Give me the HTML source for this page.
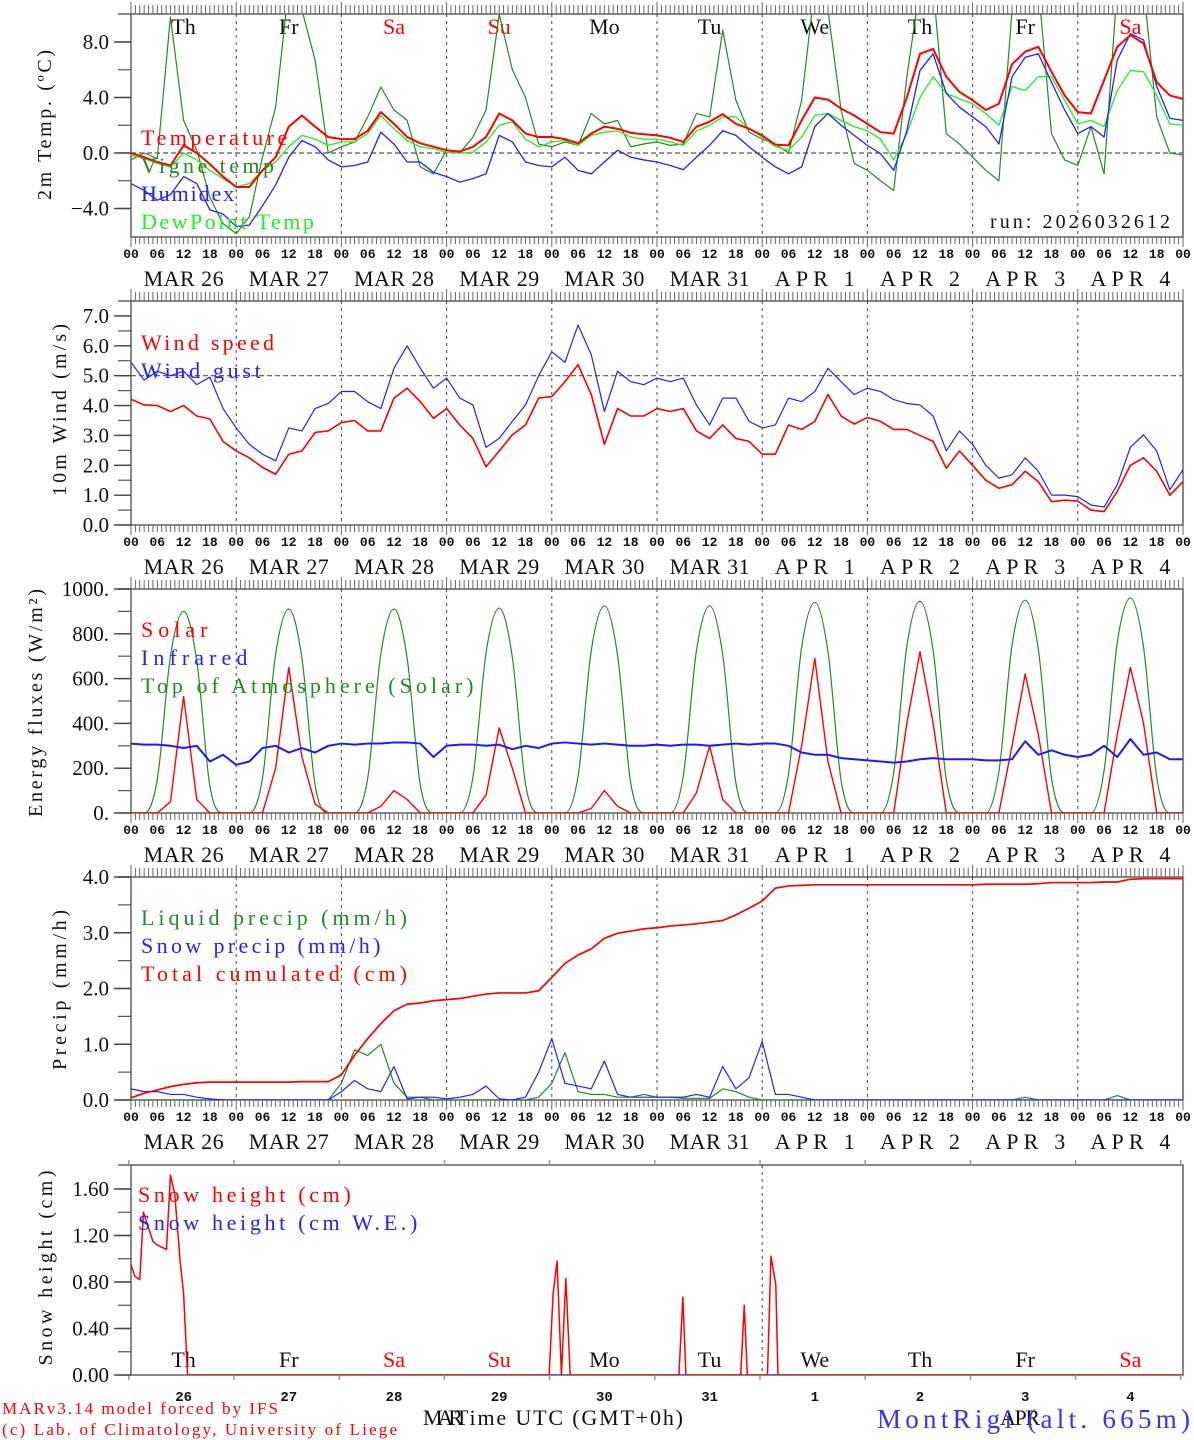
<!DOCTYPE html>
<html><head><meta charset="utf-8"><title>MAR meteogram MontRigi</title>
<style>
html,body{margin:0;padding:0;background:#fff;}
svg{display:block;}
text{font-family:"Liberation Mono",monospace;}
.serif{font-family:"Liberation Serif",serif;}
</style></head>
<body>
<svg id="chart" xmlns="http://www.w3.org/2000/svg" width="1194" height="1440" viewBox="0 0 1194 1440">
<rect x="0" y="0" width="1194" height="1440" fill="#fff"/>
<text class="serif" x="1170" y="228" text-anchor="end" font-size="20" fill="#111" textLength="180">run: 2026032612</text>
<text class="serif" x="2" y="1414" font-size="17" fill="#ff0000" textLength="276">MARv3.14 model forced by IFS</text>
<text class="serif" x="2" y="1435" font-size="17" fill="#ff0000" textLength="395">(c) Lab. of Climatology, University of Liege</text>
<text class="serif" x="423" y="1425" font-size="22" fill="#111" textLength="40">MAR</text>
<text class="serif" x="1000" y="1425" font-size="22" fill="#111" textLength="40">APR</text>
<text class="serif" x="455" y="1425" font-size="22" fill="#111" textLength="228">Time UTC (GMT+0h)</text>
<text class="serif" x="877" y="1428" font-size="27" fill="#3333ff" textLength="313">MontRigi (alt. 665m)</text>
</svg>
<script>
// ---------- data (3-hourly, t = 0..240 h from MAR 26 00 UTC) ----------
const temperature = [0.0,-0.3,-0.65,-0.9,0.55,0,-0.8,-1.7,-2.45,-2.45,-1.25,-0.3,1.9,2.7,1.9,1.15,1.0,1.0,1.6,2.95,2.1,1.15,0.7,0.45,0.2,0.1,0.45,1.15,2.85,2.35,1.4,1.15,1.15,1.0,0.7,1.4,1.9,1.75,1.45,1.35,1.27,1.1,0.8,1.9,2.25,2.8,2.1,1.75,1.27,0.6,0.55,2.35,4.0,3.85,3.2,2.7,2.1,1.5,1.4,4.0,7.15,7.5,5.5,4.4,3.8,3.1,3.55,6.4,7.3,7.65,5.85,4.15,2.95,2.85,5.25,7.65,8.5,7.9,5.1,4.15,3.9];
const vigneTemp = [-0.5,0,-0.4,9.8,2.35,0.2,-3.2,-5.1,-5.8,-4.6,-0.3,3.3,12,10.3,6.7,0,0.45,0.8,2.6,4.75,3.1,2.35,-1.0,-1.5,0.2,0,1.15,3.1,10,6.0,4.0,0.65,0.45,0.8,0.55,2.85,2.1,2.35,0.45,0.65,0.8,0.55,0.65,2.85,2.6,8.85,3.8,1.5,1.0,0.65,0,3.8,12,10.3,3.1,-0.75,-1.25,-2.0,-2.7,5.5,12,12,1.4,0.65,-0.3,-1.25,-2.0,10.3,12,12,1.4,-0.5,-0.9,1.9,-1.5,12,12,12,2.6,0,-0.15];
const humidex = [-2.2,-2.7,-3.4,-3.0,-1.7,-2.2,-4.1,-4.4,-5.3,-5.2,-3.8,-2.3,-0.3,0.9,0.45,-0.5,-1.0,-0.9,-0.65,1.5,0.65,-0.65,-0.65,-1.4,-1.7,-2.1,-1.85,-1.5,1.27,0.8,-0.65,-0.9,-1.0,-0.3,-1.25,-1.5,-0.65,0.2,-0.3,-0.5,-0.65,-0.9,-1.2,-0.3,0.55,1.6,1.27,0.45,-0.3,-1.0,-1.5,-1.0,1.9,2.85,2.0,1.27,0.55,-0.05,-1.25,1.6,5.95,7.15,4.3,3.3,2.6,1.9,0.65,5.5,6.9,7.15,5.1,3.1,1.4,1.9,1.15,6.7,8.6,8.15,4.8,2.5,2.35];
const dewPoint = [-0.15,-0.4,-0.75,-1.0,0,-0.5,-1.25,-1.85,-2.45,-2.2,-1.25,-0.65,0.45,1.27,1.0,0.55,0.8,0.8,1.4,2.7,1.75,0.9,0.45,0.3,0.05,0,0.05,0.8,2.0,2.25,1.0,0.45,0.8,0.9,0.55,1.27,1.5,1.6,1.15,1.0,1.0,0.8,0.55,1.6,2.0,2.6,2.6,1.75,1.15,0.45,0.2,1.15,2.7,2.85,2.35,1.9,1.6,1.0,-0.5,1.4,4.0,5.5,4.3,3.9,3.55,2.85,2.0,4.8,4.5,5.5,5.5,3.8,2.1,2.35,1.9,4.5,5.95,5.85,4.15,2.1,2.0];
const windSpeed = [4.21,4.02,4.0,3.8,4.0,3.65,3.55,2.8,2.48,2.25,1.93,1.7,2.37,2.48,3.1,3.15,3.43,3.5,3.15,3.15,4.25,4.58,4.13,3.57,3.9,3.35,2.9,1.95,2.48,3.02,3.35,4.25,4.3,4.8,5.37,4.37,2.7,3.9,3.65,3.65,3.9,3.8,3.9,3.15,2.9,3.35,2.9,2.8,2.37,2.37,3.35,3.2,3.47,4.37,3.65,3.38,3.6,3.47,3.2,3.2,3.0,2.8,1.9,2.48,2.0,1.5,1.23,1.35,1.8,1.45,0.78,0.83,0.8,0.5,0.45,1.12,2.0,2.25,1.8,1.0,1.45];
const windGust = [5.45,4.85,5.15,5.0,5.15,4.7,4.95,3.9,3.25,2.7,2.37,2.15,3.25,3.15,3.9,4.07,4.47,4.47,4.13,3.9,5.25,6.0,5.25,4.58,4.92,4.25,4.02,2.6,2.9,3.47,4.02,5.0,5.8,5.45,6.7,5.7,3.8,5.15,4.8,4.7,4.92,4.8,4.92,4.02,3.35,4.25,4.25,3.47,3.25,3.35,4.25,4.13,4.47,5.25,4.8,4.37,4.58,4.47,4.2,4.07,4.02,3.65,2.48,3.15,2.7,2.0,1.57,1.68,2.25,1.8,1.0,1.0,0.95,0.67,0.6,1.35,2.6,3.02,2.48,1.18,1.85];
const solar = [0,0,0,50,520,60,0,0, 0,0,0,200,650,250,40,0, 0,0,0,30,100,60,0,0, 0,0,0,80,380,200,0,0, 0,0,0,20,100,30,0,0, 0,0,0,90,300,60,0,0, 0,0,0,300,690,230,0,0, 0,0,0,400,720,400,0,0, 0,0,0,300,620,350,0,0, 0,0,0,350,650,400,0,0, 0];
const infrared = [310,305,305,300,290,300,230,260, 215,230,290,300,270,290,270,300, 310,305,310,310,315,315,310,250, 300,305,305,300,305,285,300,290, 310,315,310,305,310,305,300,300, 305,300,305,305,300,305,310,305, 310,310,300,270,260,260,245,240, 235,230,225,230,240,245,240,240, 240,235,235,240,320,260,280,260, 250,260,300,250,330,260,270,240, 240];
const toaSolar = [0,0,150,700,900,680,120,0, 0,0,155,710,910,690,125,0, 0,0,155,710,910,690,125,0, 0,0,160,715,915,695,130,0, 0,0,165,725,925,705,135,0, 0,0,165,725,925,705,135,0, 0,0,175,740,940,720,145,0, 0,0,180,745,945,725,150,0, 0,0,185,750,950,730,155,0, 0,0,190,760,960,740,160,0, 0];
const liquidPrecip = [0,0,0,0,0,0,0,0,0,0,0,0,0,0,0,0,0.3,0.9,0.8,1.0,0.3,0.05,0.05,0,0,0,0,0,0,0,0,0.05,0.3,0.85,0.15,0.1,0.1,0.05,0.05,0.1,0.05,0.05,0.03,0.03,0.03,0.2,0.15,0.05,0,0,0,0,0,0,0,0,0,0,0,0,0,0,0,0,0,0,0,0,0.05,0,0,0,0,0,0,0.08,0,0,0,0,0];
const snowPrecip = [0.2,0.15,0.15,0.1,0.1,0.05,0.02,0,0,0,0,0,0,0,0,0,0.15,0.35,0.2,0.15,0.6,0.02,0.05,0.05,0.02,0.05,0.1,0.25,0.02,0,0.05,0.5,1.1,0.3,0.25,0.2,0.7,0.1,0.05,0.05,0.05,0.05,0.05,0.1,0.05,0.6,0.2,0.4,1.05,0.1,0.1,0.05,0,0,0,0,0,0,0,0,0,0,0,0,0,0,0,0,0,0,0,0,0,0,0,0,0,0,0,0,0];
const totalCumulated = [0.04,0.12,0.18,0.24,0.28,0.31,0.32,0.32,0.32,0.32,0.32,0.32,0.32,0.33,0.33,0.33,0.45,0.8,1.1,1.37,1.6,1.72,1.74,1.78,1.8,1.82,1.86,1.9,1.92,1.92,1.92,1.96,2.2,2.45,2.6,2.71,2.9,2.99,3.03,3.07,3.09,3.12,3.14,3.16,3.19,3.22,3.32,3.44,3.57,3.8,3.84,3.85,3.86,3.86,3.86,3.86,3.86,3.86,3.86,3.86,3.86,3.86,3.86,3.86,3.86,3.87,3.87,3.87,3.87,3.88,3.9,3.9,3.9,3.9,3.91,3.91,3.96,3.97,3.97,3.97,3.97];
const snowHours = [0,0.85,2.0,2.85,5.0,5.9,8.1,9.0,10.0,11.2,12.0,12.9,95.4,96.3,97.2,98.2,99.2,100.2,125.0,125.9,126.6,139.1,139.9,140.6,145.2,146.0,147.1,147.6,240];
const snowHeight = [0.95,0.85,0.82,1.4,1.15,1.12,1.08,1.72,1.55,0.98,0.7,0,0,0.7,0.98,0,0.83,0,0,0.67,0,0,0.6,0,0,1.02,0.78,0,0];
const snowHeightWE = [0,0];
const snowHoursWE = [13,240];
const weekdays = ["Th","Fr","Sa","Su","Mo","Tu","We","Th","Fr","Sa"];
const dateLabels = ["MAR 26","MAR 27","MAR 28","MAR 29","MAR 30","MAR 31","APR  1","APR  2","APR  3","APR  4"];
const dayNumbers = ["26","27","28","29","30","31","1","2","3","4"];
const hourLabels = ["00","06","12","18"];
const tempTicks = [-4,0,4,8];
const windTicks = [0,1,2,3,4,5,6,7];
const energyTicks = [0,200,400,600,800,1000];
const precipTicks = [0,1,2,3,4];
const snowTicks = [0,0.4,0.8,1.2,1.6];

// ---------- layout ----------
const svg = document.getElementById('chart');
const NS = 'http://www.w3.org/2000/svg';
const X0 = 131, X1 = 1183, HSPAN = 240;
function xs(h){ return X0 + h/HSPAN*(X1-X0); }
function mk(tag, attrs, parent){
  const e = document.createElementNS(NS, tag);
  for (const k in attrs) e.setAttribute(k, attrs[k]);
  (parent||svg).appendChild(e);
  return e;
}
const panels = [
  {id:'temp', top:14, bottom:237, zeroY:153, k:13.875},
  {id:'wind', top:301, bottom:525, zeroY:525, k:29.86},
  {id:'energy', top:589, bottom:813, zeroY:813, k:0.224},
  {id:'precip', top:877, bottom:1100, zeroY:1100, k:55.75},
  {id:'snow', top:1165, bottom:1375, zeroY:1375, k:116.25}
];
function ys(p, v){ return p.zeroY - v*p.k; }
const threeHourly = [];
for (let i=0;i<temperature.length;i++) threeHourly.push(i*3);

const defs = mk('defs', {});


panels.forEach(p=>{
  const cp = mk('clipPath', {id:'clip-'+p.id}, defs);
  
  
  const r = mk('rect', {x:X0, y:p.top, width:X1-X0, height:p.bottom-p.top}, cp);
  
  
});

function polyPath(p, hours, vals){
  let d='';
  for (let i=0;i<vals.length;i++){
    d += (i?'L':'M') + xs(hours[i]).toFixed(2) + ',' + ys(p, vals[i]).toFixed(2);
  }
  return d;
}
function monoPath(p, hours, vals){
  const n = vals.length, xsA=[], ysA=[];
  for (let i=0;i<n;i++){ xsA.push(xs(hours[i])); ysA.push(ys(p, vals[i])); }
  const dx=[], sl=[], m=[];
  for (let i=0;i<n-1;i++){ dx.push(xsA[i+1]-xsA[i]); sl.push((ysA[i+1]-ysA[i])/dx[i]); }
  m.push(sl[0]);
  for (let i=1;i<n-1;i++){ m.push(sl[i-1]*sl[i]<=0 ? 0 : (sl[i-1]+sl[i])/2); }
  m.push(sl[n-2]);
  for (let i=0;i<n-1;i++){
    if (sl[i]===0){ m[i]=0; m[i+1]=0; continue; }
    const a=m[i]/sl[i], b=m[i+1]/sl[i], s=a*a+b*b;
    if (s>9){ const t=3/Math.sqrt(s); m[i]=t*a*sl[i]; m[i+1]=t*b*sl[i]; }
  }
  let d='M'+xsA[0].toFixed(2)+','+ysA[0].toFixed(2);
  for (let i=0;i<n-1;i++){
    const h=dx[i]/3;
    d += 'C'+(xsA[i]+h).toFixed(2)+','+(ysA[i]+m[i]*h).toFixed(2)+' '+(xsA[i+1]-h).toFixed(2)+','+(ysA[i+1]-m[i+1]*h).toFixed(2)+' '+xsA[i+1].toFixed(2)+','+ysA[i+1].toFixed(2);
  }
  return d;
}

panels.forEach((p, pi)=>{
  const g = mk('g', {});
  
  
  const fr = mk('rect', {x:X0, y:p.top, width:X1-X0, height:p.bottom-p.top, fill:'none', stroke:'#555', 'stroke-width':1.4}, g);
  
  
  const ext = mk('line', {x1:118, x2:X0, y1:p.top, y2:p.top, stroke:'#555', 'stroke-width':1.4}, g);
  
  
  if (pi<4){
    for (let d=1; d<10; d++){
      const vl = mk('line', {x1:xs(d*24), x2:xs(d*24), y1:p.top, y2:p.bottom, stroke:'#444', 'stroke-width':1, 'stroke-dasharray':'3,4'}, g);
      
      
    }
    for (let h=0; h<=240; h++){
      const big = h%24===0;
      const tt = mk('line', {x1:xs(h), x2:xs(h), y1:p.top-(big?12:9), y2:p.top, stroke:'#666', 'stroke-width':1}, g);
      
      
      const bt = mk('line', {x1:xs(h), x2:xs(h), y1:p.bottom, y2:p.bottom+(big?10:7), stroke:'#666', 'stroke-width':1}, g);
      
      
    }
    for (let d=0; d<=10; d++){
      for (let j=0;j<4;j++){
        if (d===10 && j>0) break;
        const hl = mk('text', {x:xs(d*24+j*6), y:p.bottom+21, 'font-size':13, 'font-weight':'bold', 'text-anchor':'middle', fill:'#111'}, g);
        hl.textContent = hourLabels[j];
        
        
      }
    }
    for (let d=0; d<10; d++){
      const dl = mk('text', {x:xs(d*24+12)-40, y:p.bottom+49, 'font-size':22, fill:'#111', 'xml:space':'preserve', 'class':'serif', textLength:80}, g);
      dl.textContent = dateLabels[d];
      
      
    }
  } else {
    const vl = mk('line', {x1:xs(144), x2:xs(144), y1:p.top, y2:p.bottom, stroke:'#444', 'stroke-width':1, 'stroke-dasharray':'3,4'}, g);
    
    
    for (let d=0; d<=10; d++){
      const tt = mk('line', {x1:xs(d*24-0.5), x2:xs(d*24-0.5), y1:p.top-5, y2:p.top, stroke:'#999', 'stroke-width':1.5}, g);
      
      
      const bt = mk('line', {x1:xs(d*24-0.5), x2:xs(d*24-0.5), y1:p.bottom, y2:p.bottom+5, stroke:'#999', 'stroke-width':1.5}, g);
      
      
    }
    for (let d=0; d<10; d++){
      const wl = mk('text', {x:xs(d*24+12), y:1367, 'font-size':22, 'text-anchor':'middle', 'class':'serif', fill:(weekdays[d]==='Sa'||weekdays[d]==='Su')?'#ff0000':'#111'}, g);
      wl.textContent = weekdays[d];
      
      
      const nl = mk('text', {x:xs(d*24+12), y:1401, 'font-size':14, 'font-weight':'bold', 'text-anchor':'middle', fill:'#111'}, g);
      nl.textContent = dayNumbers[d];
      
      
    }
  }
});

function yAxis(p, ticks, fmt, minorStep, name){
  const g = mk('g', {});
  
  
  const lo = ticks[0], hi = ticks[ticks.length-1];
  for (let v=lo; v<=hi+1e-9; v+=minorStep){
    const y = ys(p, v);
    if (y < p.top-1 || y > p.bottom+1) continue;
    const mt = mk('line', {x1:118, x2:X0, y1:y, y2:y, stroke:'#555', 'stroke-width':1.2}, g);
    
    
  }
  ticks.forEach(v=>{
    const y = ys(p, v);
    const t = mk('line', {x1:114, x2:X0, y1:y, y2:y, stroke:'#444', 'stroke-width':1.4}, g);
    
    
    const l = mk('text', {x:109, y:y+7, 'font-size':21, 'text-anchor':'end', 'class':'serif', fill:'#111'}, g);
    l.textContent = fmt(v);
    
    
  });
}
yAxis(panels[0], tempTicks, v=>(v<0?'\u2212':'')+Math.abs(v).toFixed(1), 2, 'temp');
yAxis(panels[1], windTicks, v=>v.toFixed(1), 0.5, 'wind');
yAxis(panels[2], energyTicks, v=>v+'.', 100, 'energy');
yAxis(panels[3], precipTicks, v=>v.toFixed(1), 0.5, 'precip');
yAxis(panels[4], snowTicks, v=>v.toFixed(2), 0.2, 'snow');

const yTitles = [
  ['2m Temp. (\u00baC)', 45, 125, 'temp-y-axis-title', 150],
  ['10m Wind (m/s)', 60, 410, 'wind-y-axis-title', 172],
  ['Energy fluxes (W/m\u00b2)', 36, 703, 'energy-y-axis-title', 228],
  ['Precip (mm/h)', 60, 990, 'precip-y-axis-title', 160],
  ['Snow height (cm)', 46, 1268, 'snow-y-axis-title', 195]
];
yTitles.forEach(t=>{
  const e = mk('text', {x:t[1], y:t[2], 'font-size':20, 'text-anchor':'middle', 'dominant-baseline':'central', 'class':'serif', textLength:t[4], fill:'#111', transform:'rotate(-90 '+t[1]+' '+t[2]+')'});
  e.textContent = t[0];
  
  
});

weekdays.forEach((w,d)=>{
  const e = mk('text', {x:xs(d*24+12), y:34, 'font-size':22, 'text-anchor':'middle', 'class':'serif', fill:(w==='Sa'||w==='Su')?'#ff0000':'#111'});
  e.textContent = w;
  
  
});

const zl = mk('line', {x1:X0, x2:X1, y1:ys(panels[0],0), y2:ys(panels[0],0), stroke:'#555', 'stroke-width':1.2, 'stroke-dasharray':'5,3'});


const fl = mk('line', {x1:X0, x2:X1, y1:ys(panels[1],5), y2:ys(panels[1],5), stroke:'#555', 'stroke-width':1.2, 'stroke-dasharray':'5,3'});



function series(p, hours, vals, color, w, name, smooth){
  const e = mk('path', {d: smooth ? monoPath(p, hours, vals) : polyPath(p, hours, vals), fill:'none', stroke:color, 'stroke-width':w, 'stroke-linejoin':'round', 'clip-path':'url(#clip-'+p.id+')'});
  
  
  return e;
}
series(panels[0], threeHourly, vigneTemp, '#228b22', 1.2, 'vigne-temp-line');
series(panels[0], threeHourly, dewPoint, '#22ee22', 1.3, 'dewpoint-line');
series(panels[0], threeHourly, humidex, '#2222ff', 1.3, 'humidex-line');
series(panels[0], threeHourly, temperature, '#ff0000', 2, 'temperature-line');
series(panels[1], threeHourly, windGust, '#2222ff', 1.2, 'wind-gust-line');
series(panels[1], threeHourly, windSpeed, '#ff0000', 1.6, 'wind-speed-line');
series(panels[2], threeHourly, toaSolar, '#228b22', 1.2, 'toa-solar-line', true);
series(panels[2], threeHourly, solar, '#ff0000', 1.4, 'solar-line');
series(panels[2], threeHourly, infrared, '#1a1aff', 2, 'infrared-line');
series(panels[3], threeHourly, liquidPrecip, '#228b22', 1.2, 'liquid-precip-line');
series(panels[3], threeHourly, snowPrecip, '#2222ff', 1.2, 'snow-precip-line');
series(panels[3], threeHourly, totalCumulated, '#ff0000', 1.7, 'total-cumulated-line');
series(panels[4], snowHoursWE, snowHeightWE, '#2222ff', 1.2, 'snow-height-we-line');
series(panels[4], snowHours, snowHeight, '#ff0000', 1.5, 'snow-height-line');

const legends = [
  ['Temperature', 141, 145, '#ff0000', 'legend-temperature'],
  ['Vigne temp', 141, 173, '#228b22', 'legend-vigne-temp'],
  ['Humidex', 141, 201, '#2222ff', 'legend-humidex'],
  ['DewPoint Temp', 141, 229, '#22ee22', 'legend-dewpoint'],
  ['Wind speed', 141, 350, '#ff0000', 'legend-wind-speed'],
  ['Wind gust', 141, 378, '#2222ff', 'legend-wind-gust'],
  ['Solar', 141, 637, '#ff0000', 'legend-solar'],
  ['Infrared', 141, 665, '#2222ff', 'legend-infrared'],
  ['Top of Atmosphere (Solar)', 141, 693, '#228b22', 'legend-toa'],
  ['Liquid precip (mm/h)', 141, 925, '#228b22', 'legend-liquid-precip'],
  ['Snow precip (mm/h)', 141, 953, '#2222ff', 'legend-snow-precip'],
  ['Total cumulated (cm)', 141, 981, '#ff0000', 'legend-total-cumulated'],
  ['Snow height (cm)', 138, 1202, '#ff0000', 'legend-snow-height'],
  ['Snow height (cm W.E.)', 138, 1230, '#2222ff', 'legend-snow-height-we']
];
legends.forEach(l=>{
  const e = mk('text', {x:l[1], y:l[2], 'font-size':22, 'class':'serif', textLength:(l[0].length*13.3).toFixed(1), fill:l[3]});
  e.textContent = l[0];
  
  
});
</script>
</body></html>
